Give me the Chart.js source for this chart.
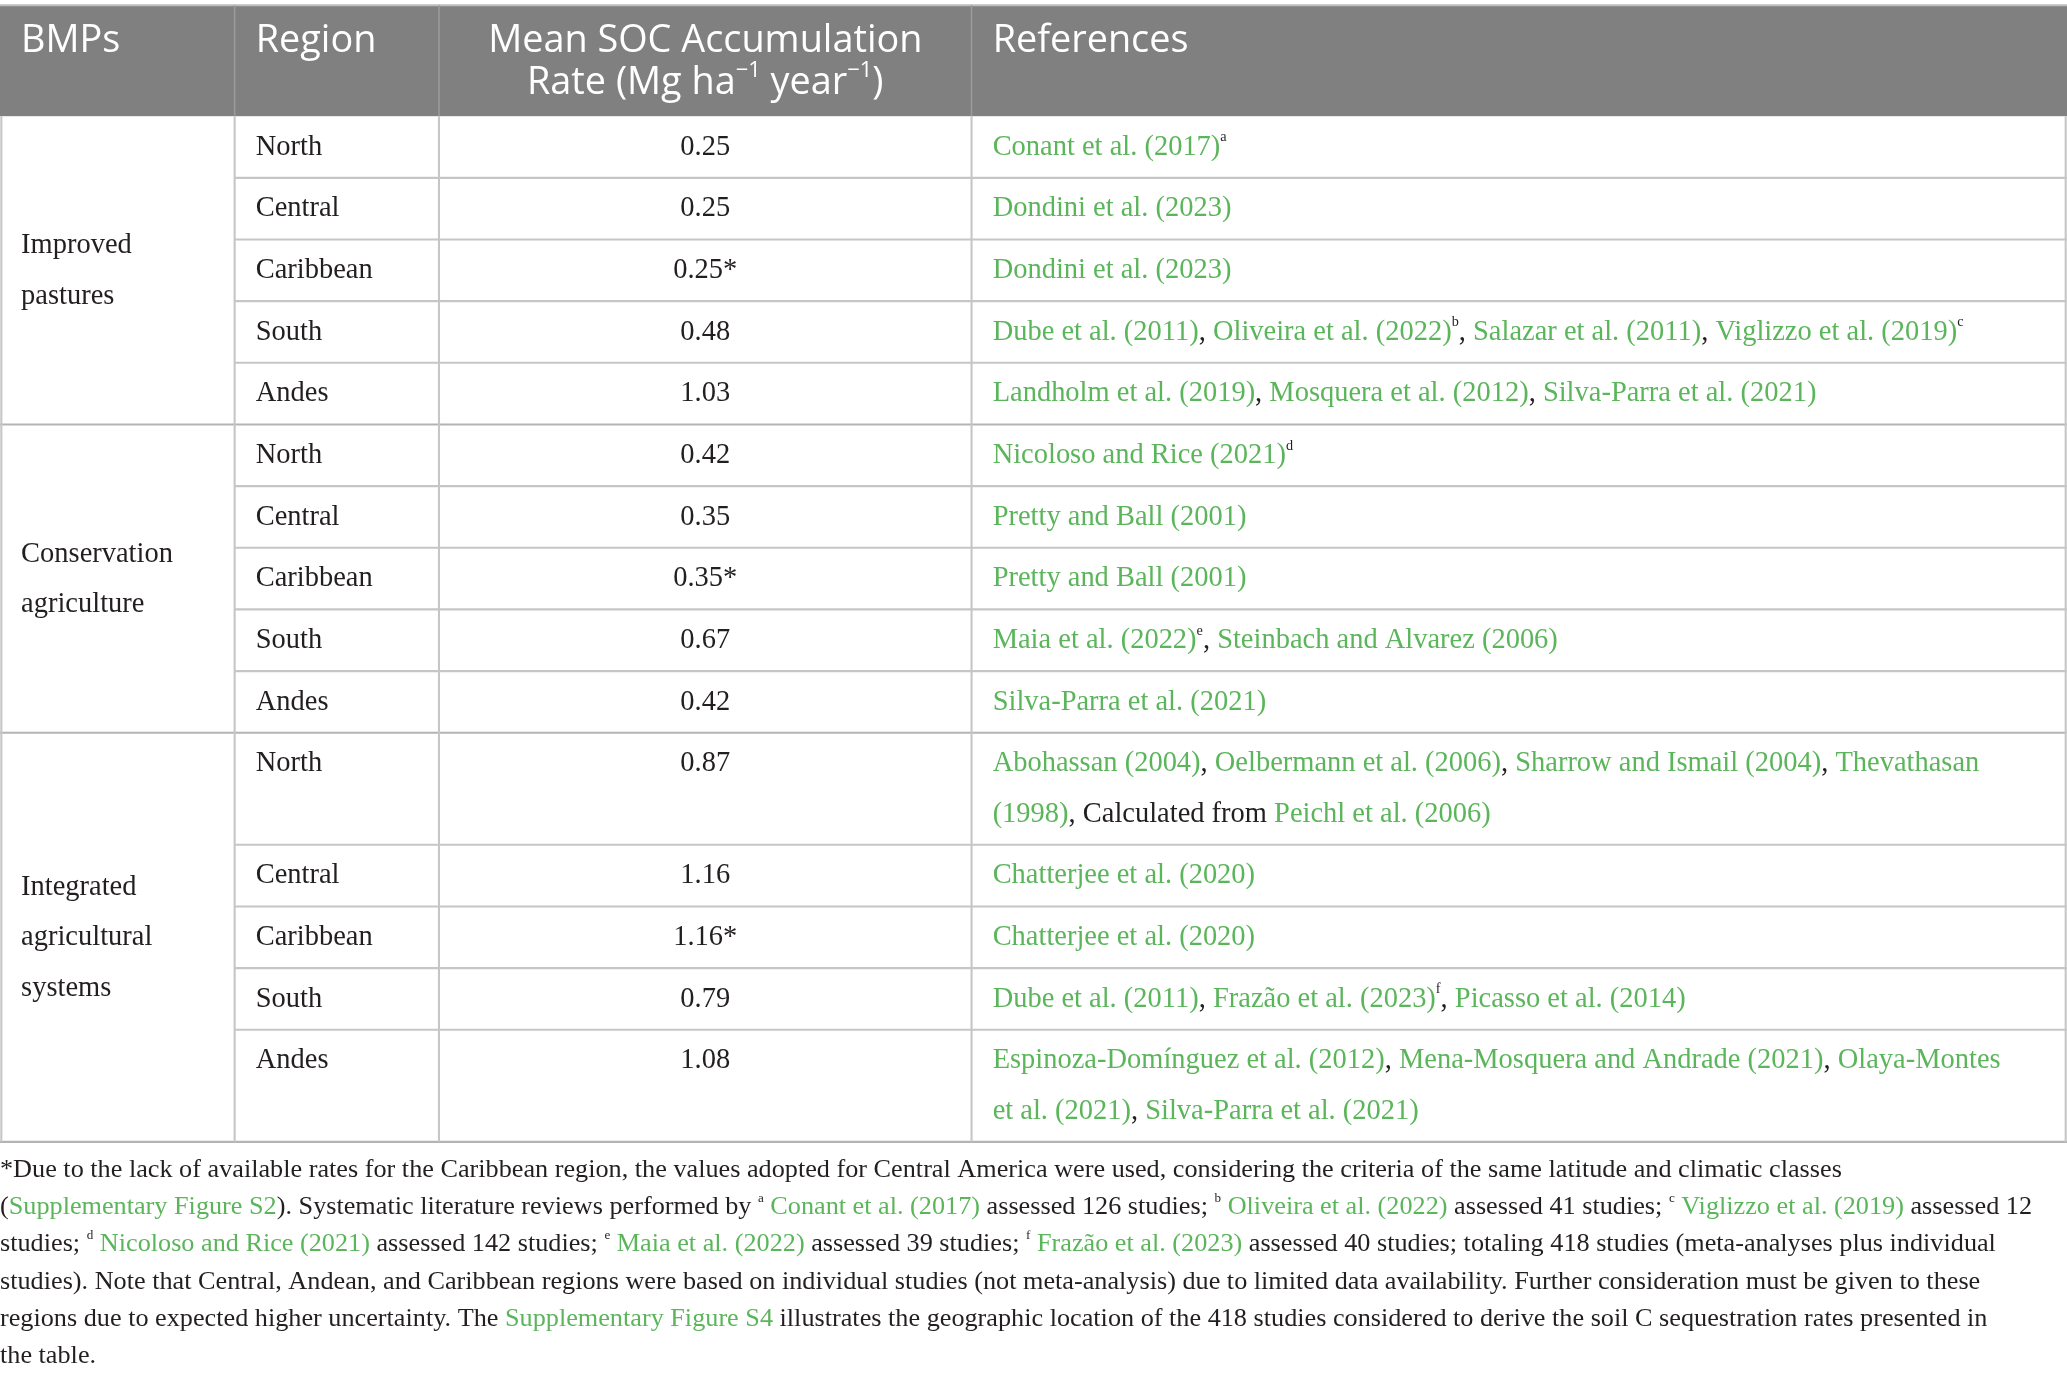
<!DOCTYPE html>
<html>
<head>
<meta charset="utf-8">
<script src="https://cdn.jsdelivr.net/npm/chart.js@4"></script>
<style>
  html, body { margin: 0; padding: 0; background: #fff; }
  #wrap { width: 2067px; height: 1377px; }
</style>
</head>
<body>
<div id="wrap"><canvas id="tbl"></canvas></div>
<script>
// table content ([...] = green reference link, ^{..} = superscript, \n = line break)
const headers = ['BMPs', 'Region', 'Mean SOC Accumulation\nRate (Mg ha^{−1} year^{−1})', 'References'];
const bmps = ['Improved\npastures', 'Conservation\nagriculture', 'Integrated\nagricultural\nsystems'];
const regions = ['North', 'Central', 'Caribbean', 'South', 'Andes'];
const pastureRates = ['0.25', '0.25', '0.25*', '0.48', '1.03'];
const conservationRates = ['0.42', '0.35', '0.35*', '0.67', '0.42'];
const integratedRates = ['0.87', '1.16', '1.16*', '0.79', '1.08'];
const pastureRefs = [
  '[Conant et al. (2017)]^{a}',
  '[Dondini et al. (2023)]',
  '[Dondini et al. (2023)]',
  '[Dube et al. (2011)], [Oliveira et al. (2022)]^{b}, [Salazar et al. (2011)], [Viglizzo et al. (2019)]^{c}',
  '[Landholm et al. (2019)], [Mosquera et al. (2012)], [Silva-Parra et al. (2021)]'
];
const conservationRefs = [
  '[Nicoloso and Rice (2021)]^{d}',
  '[Pretty and Ball (2001)]',
  '[Pretty and Ball (2001)]',
  '[Maia et al. (2022)]^{e}, [Steinbach and Alvarez (2006)]',
  '[Silva-Parra et al. (2021)]'
];
const integratedRefs = [
  '[Abohassan (2004)], [Oelbermann et al. (2006)], [Sharrow and Ismail (2004)], [Thevathasan]\n[(1998)], Calculated from [Peichl et al. (2006)]',
  '[Chatterjee et al. (2020)]',
  '[Chatterjee et al. (2020)]',
  '[Dube et al. (2011)], [Frazão et al. (2023)]^{f}, [Picasso et al. (2014)]',
  '[Espinoza-Domínguez et al. (2012)], [Mena-Mosquera and Andrade (2021)], [Olaya-Montes]\n[et al. (2021)], [Silva-Parra et al. (2021)]'
];
const footnote = [
  '*Due to the lack of available rates for the Caribbean region, the values adopted for Central America were used, considering the criteria of the same latitude and climatic classes',
  '([Supplementary Figure S2]). Systematic literature reviews performed by ^{a} [Conant et al. (2017)] assessed 126 studies; ^{b} [Oliveira et al. (2022)] assessed 41 studies; ^{c} [Viglizzo et al. (2019)] assessed 12',
  'studies; ^{d} [Nicoloso and Rice (2021)] assessed 142 studies; ^{e} [Maia et al. (2022)] assessed 39 studies; ^{f} [Frazão et al. (2023)] assessed 40 studies; totaling 418 studies (meta-analyses plus individual',
  'studies). Note that Central, Andean, and Caribbean regions were based on individual studies (not meta-analysis) due to limited data availability. Further consideration must be given to these',
  'regions due to expected higher uncertainty. The [Supplementary Figure S4] illustrates the geographic location of the 418 studies considered to derive the soil C sequestration rates presented in',
  'the table.'
];

const groupRates = [pastureRates, conservationRates, integratedRates];
const groupRefs = [pastureRefs, conservationRefs, integratedRefs];

// layout in reference units (1568 x 1043 space)
const W = 1568, H = 1043;
const colEdges = [0, 178, 333, 737, W];
const headTop = 4, bodyTop = 88;
const lineStep = 38.2, rowPad = 8.5;
const padX = 16;
const SANS = '"Open Sans", "Noto Sans", sans-serif';
const SERIF = '"Liberation Serif", "DejaVu Serif", serif';
const GREEN = '#5bb55b', INK = '#231f20', GRID = '#c6c6c6';

function parseRich(s) {
  const out = [];
  const re = /\[([^\]]*)\]|\^\{([^}]*)\}|([^\[\^]+)/g;
  let m;
  while ((m = re.exec(s))) {
    if (m[1] !== undefined) out.push({ t: m[1], green: true });
    else if (m[2] !== undefined) out.push({ t: m[2], sup: true });
    else out.push({ t: m[3] });
  }
  return out;
}

function drawRich(ctx, s, x, y, size, family, color, align, supScale) {
  const ss = supScale || 0.62;
  const segs = parseRich(s);
  const widths = segs.map(sg => {
    ctx.font = (sg.sup ? size * ss : size) + 'px ' + family;
    return ctx.measureText(sg.t).width;
  });
  const total = widths.reduce((a, b) => a + b, 0);
  let cx = align === 'center' ? x - total / 2 : x;
  segs.forEach((sg, i) => {
    ctx.font = (sg.sup ? size * ss : size) + 'px ' + family;
    ctx.fillStyle = sg.green ? GREEN : color;
    ctx.fillText(sg.t, cx, sg.sup ? y - size * 0.34 : y);
    cx += widths[i];
  });
}

const tablePlugin = {
  id: 'tablePlugin',
  afterDraw(chart) {
    const ctx = chart.ctx;
    const xs = chart.scales.x, ys = chart.scales.y;
    const px = v => xs.getPixelForValue(v);
    const py = v => ys.getPixelForValue(v);
    const k = px(1) - px(0);
    ctx.save();
    ctx.textBaseline = 'middle';
    ctx.textAlign = 'left';

    // header band
    ctx.fillStyle = '#7f807f';
    ctx.fillRect(px(0), py(headTop), px(W) - px(0), py(bodyTop) - py(headTop));
    ctx.strokeStyle = '#bdbdbd';
    ctx.lineWidth = 1.5 * k;
    ctx.beginPath(); ctx.moveTo(px(0), py(headTop)); ctx.lineTo(px(W), py(headTop)); ctx.stroke();
    ctx.strokeStyle = '#9a9b9a';
    ctx.lineWidth = 1.2 * k;
    colEdges.slice(1, -1).forEach(c => {
      ctx.beginPath(); ctx.moveTo(px(c), py(headTop)); ctx.lineTo(px(c), py(bodyTop)); ctx.stroke();
    });
    headers.forEach((h, i) => {
      const lines = h.split('\n');
      lines.forEach((ln, j) => {
        const yy = 31 + j * 32;
        if (i === 2) drawRich(ctx, ln, px((colEdges[2] + colEdges[3]) / 2), py(yy), 28.7 * k, SANS, '#ffffff', 'center', 0.58);
        else drawRich(ctx, ln, px(colEdges[i] + padX), py(yy), 28.7 * k, SANS, '#ffffff', 'left');
      });
    });

    // body rows
    let y = bodyTop;
    const fs = 21.6 * k;
    ctx.strokeStyle = GRID;
    ctx.lineWidth = 1.6 * k;
    groupRates.forEach((rates, g) => {
      const gTop = y;
      regions.forEach((reg, r) => {
        const refLines = groupRefs[g][r].split('\n');
        const rh = rowPad + lineStep * refLines.length;
        const cy = y + 23.5;
        drawRich(ctx, reg, px(colEdges[1] + padX), py(cy), fs, SERIF, INK, 'left');
        drawRich(ctx, rates[r], px((colEdges[2] + colEdges[3]) / 2), py(cy), fs, SERIF, INK, 'center');
        refLines.forEach((ln, j) => {
          drawRich(ctx, ln, px(colEdges[3] + padX), py(cy + j * lineStep), fs, SERIF, INK, 'left', 0.5);
        });
        y += rh;
        // row separator (full width at group end)
        const x0 = r === regions.length - 1 ? 0 : colEdges[1];
        ctx.strokeStyle = r === regions.length - 1 ? '#b4b4b4' : GRID;
        ctx.beginPath(); ctx.moveTo(px(x0), py(y)); ctx.lineTo(px(W), py(y)); ctx.stroke();
      });
      const bl = bmps[g].split('\n');
      const mid = (gTop + y) / 2;
      bl.forEach((ln, j) => {
        const yy = mid + 0.5 + (j - (bl.length - 1) / 2) * lineStep;
        drawRich(ctx, ln, px(colEdges[0] + padX), py(yy), fs, SERIF, INK, 'left');
      });
    });
    const bodyBottom = y;
    ctx.strokeStyle = GRID;
    [1, 178, 333, 737, W - 1].forEach(c => {
      ctx.beginPath(); ctx.moveTo(px(c), py(bodyTop)); ctx.lineTo(px(c), py(bodyBottom)); ctx.stroke();
    });

    // footnote
    footnote.forEach((ln, j) => {
      drawRich(ctx, ln, px(0), py(886 + j * 28.3), 19.9 * k, SERIF, INK, 'left', 0.5);
    });
    ctx.restore();
  }
};

new Chart(document.getElementById('tbl'), {
  type: 'scatter',
  data: { datasets: [{ data: [] }] },
  options: {
    responsive: true,
    maintainAspectRatio: false,
    animation: false,
    events: [],
    layout: { padding: 0 },
    scales: {
      x: { type: 'linear', min: 0, max: W, display: false },
      y: { type: 'linear', min: 0, max: H, reverse: true, display: false }
    },
    plugins: { legend: { display: false }, tooltip: { enabled: false } }
  },
  plugins: [tablePlugin]
});
</script>
</body>
</html>
